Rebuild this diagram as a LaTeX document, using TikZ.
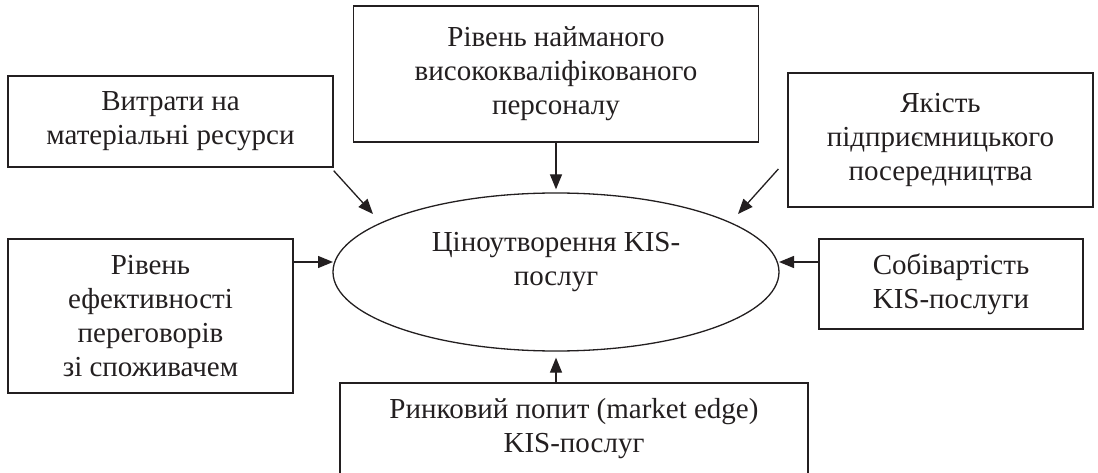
\documentclass[tikz,border=0pt]{standalone}
\usepackage{fontspec}
\setmainfont{Liberation Serif}
\usetikzlibrary{arrows.meta,shapes.geometric}
\definecolor{ink}{RGB}{35,31,32}
\begin{document}
\begin{tikzpicture}[x=1pt,y=-1pt,
  txt/.style={font=\fontsize{29}{34}\selectfont, text=ink, align=center, inner sep=0pt},
  box/.style={txt, draw=ink, line width=1.3pt},
  arr/.style={draw=ink, line width=1.3pt, -{Triangle[length=15pt,width=12pt]}}]
\useasboundingbox (0,0) rectangle (1098,473);
\fill[white] (0,0) rectangle (1098,473);

\node[box, minimum width=325pt, minimum height=91pt] (vit) at (170.5,121.5)
  {Витрати на\\матеріальні ресурси};
\node[box, minimum width=405pt, minimum height=136pt] (top) at (556,74)
  {Рівень найманого\\висококваліфікованого\\персоналу};
\node[box, minimum width=305pt, minimum height=134pt] (yak) at (940.5,140)
  {Якість\\підприємницького\\посередництва};
\node[box, minimum width=285pt, minimum height=154pt] (riv) at (150.5,316)
  {Рівень\\ефективності\\переговорів\\зі споживачем};
\node[box, minimum width=264pt, minimum height=90pt] (sob) at (951,284)
  {Собівартість\\KIS-послуги};
\node[box, minimum width=468pt, minimum height=91.5pt] (bot) at (574,428.75)
  {Ринковий попит (market edge)\\KIS-послуг};

\node[draw=ink, line width=1.3pt, ellipse, minimum width=446pt, minimum height=158pt, inner sep=0pt] (ell) at (556,272) {};
\node[txt, anchor=base] (elltext) at (556,285) {Ціноутворення KIS-\\послуг};

\coordinate (t1) at (373,214);
\coordinate (t3) at (738,214);
\coordinate (lt) at (333,262);
\coordinate (rt) at (779,262);

\draw[arr] ([yshift=-3pt]vit.south east) -- (t1);
\draw[arr] (top.south) -- ([yshift=3pt]ell.north);
\draw[arr] ([xshift=-9pt,yshift=-29pt]yak.west) -- (t3);
\draw[arr] (riv.east |- lt) -- (lt);
\draw[arr] (sob.west |- rt) -- (rt);
\draw[arr] (bot.north -| ell.south) -- ([yshift=-6pt]ell.south);
\end{tikzpicture}
\end{document}
